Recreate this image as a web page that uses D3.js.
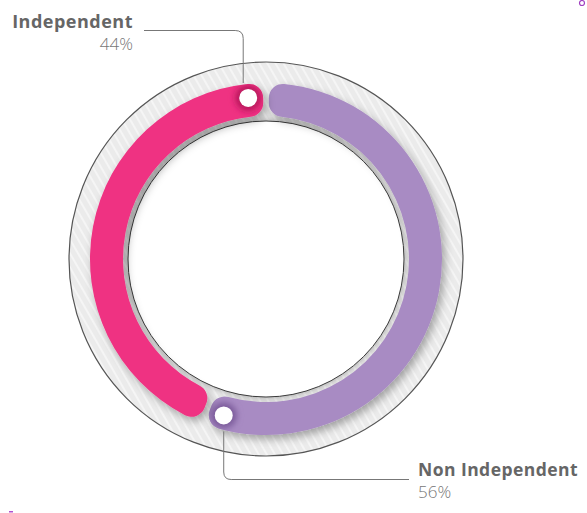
<!DOCTYPE html>
<html>
<head>
<meta charset="utf-8">
<script src="https://cdn.jsdelivr.net/npm/d3@7"></script>
<style>
  body { margin: 0; background: #fff; }
  text { font-family: "Open Sans", sans-serif; }
</style>
</head>
<body>
<div id="chart"></div>
<script>
// --- Data ---
const categories = ["Non Independent", "Independent"];
const values = [56, 44];
const percentLabels = ["56%", "44%"];
const colors = ["#a88bc3", "#ef3282"];
const darkColors = ["#7a5a9a", "#b8175c"];

// --- Sizes ---
const width = 587, height = 513;
const cx = 266, cy = 259;
const ringOuter = 197, ringInner = 138;
const arcIn = 143, arcOut = 176;
const dotR = 162;

const svg = d3.select("#chart")
  .append("svg")
    .attr("width", width)
    .attr("height", height);

const defs = svg.append("defs");

// stripes on the grey ring
const pat = defs.append("pattern")
  .attr("id", "stripes")
  .attr("patternUnits", "userSpaceOnUse")
  .attr("width", 7).attr("height", 7)
  .attr("patternTransform", "rotate(-30)");
pat.append("rect").attr("width", 7).attr("height", 7).attr("fill", "#ebebeb");
pat.append("line")
  .attr("x1", 1).attr("y1", 0).attr("x2", 1).attr("y2", 7)
  .attr("stroke", "#fff").attr("stroke-width", 1.1).attr("opacity", 0.9);

const arcShadow = defs.append("filter").attr("id", "arcShadow")
  .attr("x", "-20%").attr("y", "-20%").attr("width", "140%").attr("height", "140%");
arcShadow.append("feDropShadow")
  .attr("dx", 3).attr("dy", 4).attr("stdDeviation", 4.5)
  .attr("flood-color", "#000").attr("flood-opacity", 0.33);

const diskShadow = defs.append("filter").attr("id", "diskShadow")
  .attr("x", "-20%").attr("y", "-20%").attr("width", "140%").attr("height", "140%");
diskShadow.append("feDropShadow")
  .attr("dx", 0).attr("dy", 0).attr("stdDeviation", 3)
  .attr("flood-color", "#000").attr("flood-opacity", 0.35);

const blur = defs.append("filter").attr("id", "blur")
  .attr("x", "-50%").attr("y", "-50%").attr("width", "200%").attr("height", "200%");
blur.append("feGaussianBlur").attr("stdDeviation", 3);

const g = svg.append("g").attr("transform", `translate(${cx},${cy})`);

// --- Background ring ---
g.append("path")
  .attr("d", d3.arc().innerRadius(ringInner).outerRadius(ringOuter)({ startAngle: 0, endAngle: 2 * Math.PI }))
  .attr("fill", "url(#stripes)");

g.append("circle")
  .attr("r", ringOuter)
  .attr("fill", "none")
  .attr("stroke", "#555")
  .attr("stroke-width", 1.2);

g.append("circle")
  .attr("r", ringInner)
  .attr("fill", "#fff")
  .attr("stroke", "#3a3a3a")
  .attr("stroke-width", 1)
  .attr("filter", "url(#diskShadow)");

// --- Arcs ---
const pie = d3.pie().sort(null).value(d => d).padAngle(0.025);
const arcs = pie(values);
const arc = d3.arc().innerRadius(arcIn).outerRadius(arcOut).cornerRadius(14);

arcs.forEach((d, i) => {
  defs.append("clipPath").attr("id", "clip" + i)
    .append("path").attr("d", arc(d));
});

g.selectAll(".slice")
  .data(arcs)
  .enter()
  .append("path")
    .attr("class", "slice")
    .attr("d", arc)
    .attr("fill", (d, i) => colors[i])
    .attr("filter", "url(#arcShadow)");

// dot near the end of each arc
const dotAngle = d => d.endAngle - 0.11;
const dotPos = d => [dotR * Math.sin(dotAngle(d)), -dotR * Math.cos(dotAngle(d))];

arcs.forEach((d, i) => {
  const [x, y] = dotPos(d);
  g.append("g").attr("clip-path", `url(#clip${i})`)
    .append("circle")
      .attr("cx", x).attr("cy", y).attr("r", 13)
      .attr("fill", darkColors[i])
      .attr("filter", "url(#blur)");
  g.append("circle")
    .attr("cx", x).attr("cy", y).attr("r", 9)
    .attr("fill", "#fff");
});

// --- Labels with leader lines ---
const [pX, pY] = dotPos(arcs[1]);   // Independent
const lx = cx + pX - 5;
svg.append("path")
  .attr("d", `M144,30.5 H${lx - 8} Q${lx},30.5 ${lx},38.5 V${cy - arcOut}`)
  .attr("fill", "none").attr("stroke", "#777").attr("stroke-width", 1);

svg.append("text")
  .attr("x", 133).attr("y", 28)
  .attr("text-anchor", "end")
  .style("font-size", "18px").style("font-weight", 700)
  .style("letter-spacing", "0.5px")
  .attr("fill", "#666")
  .text(categories[1]);
svg.append("text")
  .attr("x", 133).attr("y", 50)
  .attr("text-anchor", "end")
  .style("font-size", "17px").style("font-weight", 300)
  .attr("fill", "#777")
  .text(percentLabels[1]);

const [nX, nY] = dotPos(arcs[0]);   // Non Independent
const nx = cx + nX, ny = cy + nY;
svg.append("path")
  .attr("d", `M${nx},${ny + 16} V472 Q${nx},479.5 ${nx + 7.5},479.5 H409`)
  .attr("fill", "none").attr("stroke", "#777").attr("stroke-width", 1);

svg.append("text")
  .attr("x", 418).attr("y", 476)
  .style("font-size", "17.5px").style("font-weight", 700)
  .style("letter-spacing", "0.45px")
  .attr("fill", "#666")
  .text(categories[0]);
svg.append("text")
  .attr("x", 418).attr("y", 498)
  .style("font-size", "17px").style("font-weight", 300)
  .attr("fill", "#777")
  .text(percentLabels[0]);

// small stray marks seen on the original
svg.append("circle").attr("cx", 582).attr("cy", 3).attr("r", 2.5)
  .attr("fill", "none").attr("stroke", "#a040c0").attr("stroke-width", 1.2);
svg.append("rect").attr("x", 9).attr("y", 511).attr("width", 4).attr("height", 1.5)
  .attr("fill", "#b050d0");
</script>
</body>
</html>
